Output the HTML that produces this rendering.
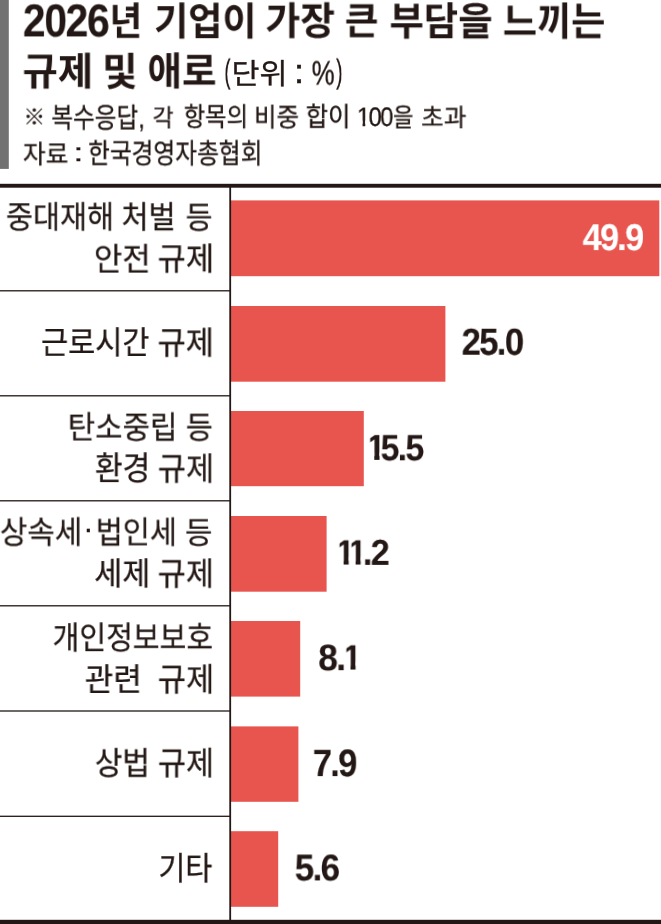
<!DOCTYPE html>
<html lang="ko">
<head>
<meta charset="utf-8">
<title>2026년 기업이 가장 큰 부담을 느끼는 규제 및 애로</title>
<style>
html,body{margin:0;padding:0;background:#fff;}
h1,p{margin:0;padding:0;font:inherit;}
#chart{position:relative;width:661px;height:924px;overflow:hidden;background:#fff;font-family:"Liberation Sans","Noto Sans CJK KR",sans-serif;}
#chart svg{position:absolute;left:0;top:0;}
.t{position:absolute;left:0;top:0;white-space:pre;line-height:1;transform-origin:0 0;will-change:transform;text-rendering:geometricPrecision;}
.b1,.r1{display:inline-block;font-style:normal}
.b1{clip-path:polygon(.105em -1em,2em -1em,2em .60em,.378em .60em,.378em 2em,.226em 2em,.226em .60em,.105em .60em)}
.r1{clip-path:polygon(-1em -1em,2em -1em,2em .62em,.347em .62em,.347em 2em,.244em 2em,.244em .62em,-1em .62em)}
</style>
</head>
<body>
<div id="chart">
<svg width="661" height="924" viewBox="0 0 661 924">
<rect x="0" y="0" width="8.8" height="168.9" fill="#717171"/>
<rect x="230.5" y="200.40" width="428.80" height="75.80" fill="#E8554E"/>
<rect x="230.5" y="306.00" width="214.90" height="75.70" fill="#E8554E"/>
<rect x="230.5" y="411.00" width="133.30" height="75.20" fill="#E8554E"/>
<rect x="230.5" y="516.00" width="96.10" height="75.70" fill="#E8554E"/>
<rect x="230.5" y="621.00" width="69.70" height="75.60" fill="#E8554E"/>
<rect x="230.5" y="726.40" width="67.90" height="75.40" fill="#E8554E"/>
<rect x="230.5" y="831.20" width="47.70" height="75.60" fill="#E8554E"/>
<rect x="0" y="290.15" width="230" height="1.3" fill="#231815"/>
<rect x="0" y="395.15" width="230" height="1.3" fill="#231815"/>
<rect x="0" y="500.15" width="230" height="1.3" fill="#231815"/>
<rect x="0" y="605.15" width="230" height="1.3" fill="#231815"/>
<rect x="0" y="710.35" width="230" height="1.3" fill="#231815"/>
<rect x="0" y="815.65" width="230" height="1.3" fill="#231815"/>
<rect x="0" y="183.8" width="661" height="3.9" fill="#231815"/>
<rect x="0" y="919.8" width="661" height="4.2" fill="#231815"/>
<rect x="229.3" y="185" width="1.8" height="736" fill="#231815"/>
</svg>
<header class="hd">
<h1>
<span class="t" style="font-size:46.3px;font-weight:700;color:#231815;transform:matrix(0.8842,0,0,1,22.88,-2.62);letter-spacing:-0.035em;-webkit-text-stroke:.002em">2026</span>
<span class="t" style="font-size:39.0px;font-weight:700;color:#231815;transform:matrix(0.9048,0,0,1,109.62,3.15)">년</span>
<span class="t" style="font-size:38.96px;font-weight:700;color:#231815;transform:matrix(0.9524,0,0,1,154.1,4.15)">기업이</span>
<span class="t" style="font-size:38.9px;font-weight:700;color:#231815;transform:matrix(0.9722,0,0,1,265.42,3.63)">가장</span>
<span class="t" style="font-size:37.96px;font-weight:700;color:#231815;transform:matrix(0.9601,0,0,1,344.8,4.47)">큰</span>
<span class="t" style="font-size:39.25px;font-weight:700;color:#231815;transform:matrix(0.9522,0,0,1,389.45,3.24)">부담을</span>
<span class="t" style="font-size:39.32px;font-weight:700;color:#231815;transform:matrix(0.9452,0,0,1,502.79,3.38)">느끼는</span>
<span class="t" style="font-size:38.91px;font-weight:700;color:#231815;transform:matrix(0.9862,0,0,1,22.53,54.15)">규제</span>
<span class="t" style="font-size:39.33px;font-weight:700;color:#231815;transform:matrix(0.9729,0,0,1,102.25,53.75)">및</span>
<span class="t" style="font-size:39.03px;font-weight:700;color:#231815;transform:matrix(0.9599,0,0,1,147.47,53.08)">애로</span>
<span class="t" style="font-size:33.2px;font-weight:400;color:#231815;transform:matrix(0.5575,0,0,1,224.36,55.6);-webkit-text-stroke:.011em">(</span>
<span class="t" style="font-size:29.03px;font-weight:400;color:#231815;transform:matrix(1.0477,0,0,1,231.6,61.28);-webkit-text-stroke:.011em">단위</span>
<span class="t" style="font-size:34.17px;font-weight:400;color:#231815;transform:matrix(1.1093,0,0,1,293.84,55.1);-webkit-text-stroke:.011em">:</span>
<span class="t" style="font-size:33.98px;font-weight:400;color:#231815;transform:matrix(0.759,0,0,1,311.67,56.49);-webkit-text-stroke:.011em">%</span>
<span class="t" style="font-size:33.2px;font-weight:400;color:#231815;transform:matrix(0.5862,0,0,1,336.1,55.59);-webkit-text-stroke:.011em">)</span>
</h1>
<p class="note">
<span class="t" style="font-size:22.09px;font-weight:400;color:#231815;transform:matrix(0.9811,0,0,1,23.44,106.7);-webkit-text-stroke:.011em">※</span>
<span class="t" style="font-size:27.98px;font-weight:400;color:#231815;transform:matrix(0.844,0,0,1,51.3,104.6);-webkit-text-stroke:.011em">복수응답,</span>
<span class="t" style="font-size:24.42px;font-weight:400;color:#231815;transform:matrix(0.9393,0,0,1,152.51,107.44);-webkit-text-stroke:.011em">각</span>
<span class="t" style="font-size:26.74px;font-weight:400;color:#231815;transform:matrix(0.8696,0,0,1,183.76,104.21);-webkit-text-stroke:.011em">항목의</span>
<span class="t" style="font-size:26.31px;font-weight:400;color:#231815;transform:matrix(0.9274,0,0,1,254.05,104.51);-webkit-text-stroke:.011em">비중</span>
<span class="t" style="font-size:27.02px;font-weight:400;color:#231815;transform:matrix(0.9011,0,0,1,305.75,104.18);-webkit-text-stroke:.011em">합이</span>
<span class="t" style="font-size:26.72px;font-weight:400;color:#231815;transform:matrix(0.8812,0,0,1,356.93,103.97);letter-spacing:-0.06em;-webkit-text-stroke:.011em"><i class=r1>1</i>00</span>
<span class="t" style="font-size:26.06px;font-weight:400;color:#231815;transform:matrix(0.8555,0,0,1,392.98,104.54);-webkit-text-stroke:.011em">을</span>
<span class="t" style="font-size:24.93px;font-weight:400;color:#231815;transform:matrix(0.987,0,0,1,421.03,106.27);-webkit-text-stroke:.011em">초과</span>
<span class="t" style="font-size:26.0px;font-weight:400;color:#231815;transform:matrix(0.9496,0,0,1,22.87,141.36);-webkit-text-stroke:.011em">자료</span>
<span class="t" style="font-size:25.65px;font-weight:400;color:#231815;transform:matrix(1.3789,0,0,1,73.48,141.47);-webkit-text-stroke:.011em">:</span>
<span class="t" style="font-size:28.2px;font-weight:400;color:#231815;transform:matrix(0.8406,0,0,1,88.05,139.37);-webkit-text-stroke:.011em">한국경영자총협회</span>
</p>
</header>
<section class="rows">
<div class="row">
<div class="label">
<span class="t" style="font-size:31.54px;font-weight:400;color:#231815;transform:matrix(0.9323,0,0,1,5.91,202.14);-webkit-text-stroke:.008em">중대재해</span>
<span class="t" style="font-size:31.55px;font-weight:400;color:#231815;transform:matrix(0.934,0,0,1,121.4,202.17);-webkit-text-stroke:.008em">처벌</span>
<span class="t" style="font-size:31.2px;font-weight:400;color:#231815;transform:matrix(0.9344,0,0,1,185.59,202.56);-webkit-text-stroke:.008em">등</span>
<span class="t" style="font-size:32.26px;font-weight:400;color:#231815;transform:matrix(0.955,0,0,1,93.9,243.61);-webkit-text-stroke:.008em">안전</span>
<span class="t" style="font-size:32.26px;font-weight:400;color:#231815;transform:matrix(0.9514,0,0,1,157.6,243.22);-webkit-text-stroke:.008em">규제</span>
</div>
<div class="value">
<span class="t" style="font-size:37.42px;font-weight:700;color:#ffffff;transform:matrix(0.9133,0,0,1,582.66,219.1);letter-spacing:-0.05em;-webkit-text-stroke:.003em">49.9</span>
</div>
</div>
<div class="row">
<div class="label">
<span class="t" style="font-size:32.33px;font-weight:400;color:#231815;transform:matrix(0.9113,0,0,1,40.99,326.97);-webkit-text-stroke:.008em">근로시간</span>
<span class="t" style="font-size:32.46px;font-weight:400;color:#231815;transform:matrix(0.9464,0,0,1,157.5,327.24);-webkit-text-stroke:.008em">규제</span>
</div>
<div class="value">
<span class="t" style="font-size:37.63px;font-weight:700;color:#231815;transform:matrix(0.9251,0,0,1,461.58,323.7);letter-spacing:-0.05em;-webkit-text-stroke:.003em">25.0</span>
</div>
</div>
<div class="row">
<div class="label">
<span class="t" style="font-size:31.76px;font-weight:400;color:#231815;transform:matrix(0.9378,0,0,1,67.73,412.57);-webkit-text-stroke:.008em">탄소중립</span>
<span class="t" style="font-size:31.26px;font-weight:400;color:#231815;transform:matrix(0.938,0,0,1,185.82,412.51);-webkit-text-stroke:.008em">등</span>
<span class="t" style="font-size:33.54px;font-weight:400;color:#231815;transform:matrix(0.899,0,0,1,94.87,453.08);-webkit-text-stroke:.008em">환경</span>
<span class="t" style="font-size:32.63px;font-weight:400;color:#231815;transform:matrix(0.9408,0,0,1,157.7,453.26);-webkit-text-stroke:.008em">규제</span>
</div>
<div class="value">
<span class="t" style="font-size:35.86px;font-weight:700;color:#231815;transform:matrix(0.95,0,0,1,366.6,430.84);-webkit-text-stroke:.003em"><i class=b1>1</i></span>
<span class="t" style="font-size:36.8px;font-weight:700;color:#231815;transform:matrix(0.9209,0,0,1,380.61,430.26);letter-spacing:-0.05em;-webkit-text-stroke:.003em">5.5</span>
</div>
</div>
<div class="row">
<div class="label">
<span class="t" style="font-size:31.84px;font-weight:400;color:#231815;transform:matrix(0.9392,0,0,1,-0.16,517.47);-webkit-text-stroke:.008em">상속세</span>
<span class="t" style="font-size:31px;font-weight:400;color:#231815;transform:matrix(1.0,0,0,1,83.26,513.22);-webkit-text-stroke:.008em">·</span>
<span class="t" style="font-size:31.57px;font-weight:400;color:#231815;transform:matrix(0.9329,0,0,1,95.73,517.45);-webkit-text-stroke:.008em">법인세</span>
<span class="t" style="font-size:31.11px;font-weight:400;color:#231815;transform:matrix(0.9515,0,0,1,185.07,517.73);-webkit-text-stroke:.008em">등</span>
<span class="t" style="font-size:32.23px;font-weight:400;color:#231815;transform:matrix(0.9443,0,0,1,94.25,558.03);-webkit-text-stroke:.008em">세제</span>
<span class="t" style="font-size:32.52px;font-weight:400;color:#231815;transform:matrix(0.9405,0,0,1,157.63,558.27);-webkit-text-stroke:.008em">규제</span>
</div>
<div class="value">
<span class="t" style="font-size:35.28px;font-weight:700;color:#231815;transform:matrix(0.95,0,0,1,336.0,535.53);-webkit-text-stroke:.003em"><i class=b1>1</i></span>
<span class="t" style="font-size:35.28px;font-weight:700;color:#231815;transform:matrix(0.95,0,0,1,347.97,535.53);-webkit-text-stroke:.003em"><i class=b1>1</i></span>
<span class="t" style="font-size:36.04px;font-weight:700;color:#231815;transform:matrix(0.9519,0,0,1,362.84,534.83);letter-spacing:-0.05em;-webkit-text-stroke:.003em">.2</span>
</div>
</div>
<div class="row">
<div class="label">
<span class="t" style="font-size:32.29px;font-weight:400;color:#231815;transform:matrix(0.9004,0,0,1,52.61,622.18);-webkit-text-stroke:.008em">개인정보보호</span>
<span class="t" style="font-size:32.26px;font-weight:400;color:#231815;transform:matrix(0.9614,0,0,1,84.68,663.97);-webkit-text-stroke:.008em">관련</span>
<span class="t" style="font-size:32.75px;font-weight:400;color:#231815;transform:matrix(0.9371,0,0,1,157.71,664.1);-webkit-text-stroke:.008em">규제</span>
</div>
<div class="value">
<span class="t" style="font-size:36.92px;font-weight:700;color:#231815;transform:matrix(0.9608,0,0,1,318.18,640.13);letter-spacing:-0.05em;-webkit-text-stroke:.003em">8.</span>
<span class="t" style="font-size:35.28px;font-weight:700;color:#231815;transform:matrix(0.95,0,0,1,342.86,640.53);-webkit-text-stroke:.003em"><i class=b1>1</i></span>
</div>
</div>
<div class="row">
<div class="label">
<span class="t" style="font-size:32.46px;font-weight:400;color:#231815;transform:matrix(0.925,0,0,1,94.77,747.7);-webkit-text-stroke:.008em">상법</span>
<span class="t" style="font-size:32.7px;font-weight:400;color:#231815;transform:matrix(0.9371,0,0,1,157.83,747.84);-webkit-text-stroke:.008em">규제</span>
</div>
<div class="value">
<span class="t" style="font-size:38.21px;font-weight:700;color:#231815;transform:matrix(0.905,0,0,1,312.78,745.11);letter-spacing:-0.05em;-webkit-text-stroke:.003em">7.9</span>
</div>
</div>
<div class="row">
<div class="label">
<span class="t" style="font-size:32.65px;font-weight:400;color:#231815;transform:matrix(0.8971,0,0,1,158.42,853.02);-webkit-text-stroke:.008em">기타</span>
</div>
<div class="value">
<span class="t" style="font-size:37.3px;font-weight:700;color:#231815;transform:matrix(0.9415,0,0,1,294.69,849.39);letter-spacing:-0.05em;-webkit-text-stroke:.003em">5.6</span>
</div>
</div>
</section>
</div>
</body>
</html>
